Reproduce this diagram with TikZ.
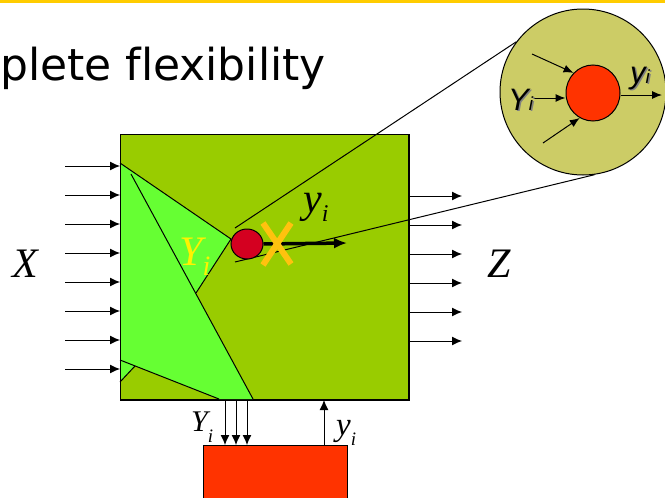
\documentclass[tikz,border=0pt]{standalone}
\usepackage{fontspec}
\newfontfamily\titlefont{DejaVu Sans}[Ligatures=NoCommon]
\newfontfamily\lensfont{Liberation Sans}
\newfontfamily\timesfont{Liberation Serif}[ItalicFont={Liberation Serif Italic}]
\usetikzlibrary{calc,shapes,backgrounds,arrows.meta,positioning}

\definecolor{boxgreen}{HTML}{99CC00}
\definecolor{lightgreen}{HTML}{66FF33}
\definecolor{dotred}{HTML}{D40020}
\definecolor{boxred}{HTML}{FF3300}
\definecolor{lensolive}{HTML}{CCCC66}
\definecolor{crossyellow}{HTML}{FFC20E}
\definecolor{rulegold}{HTML}{FFCC00}

% letter with a lowered index: size, letter, index size, drop
\newcommand{\sublab}[4]{{\timesfont\itshape\fontsize{#1}{#1}\selectfont #2\raisebox{-#4}{\fontsize{#3}{#3}\selectfont i}}}

\tikzset{
  flow/.style={line width=1pt, -{Latex[length=10pt,width=9pt]}},
  small flow/.style={line width=1pt, -{Latex[length=10pt,width=8pt]}},
  big label/.style={inner sep=0, anchor=base, font=\timesfont\itshape\fontsize{42}{42}\selectfont},
  sub label/.style={inner sep=0, anchor=base west},
  lens label/.style={anchor=base west, inner sep=0, font=\lensfont\itshape\fontsize{31}{31}\selectfont},
}

\begin{document}
\begin{tikzpicture}[x=1pt, y=-1pt]
 \useasboundingbox (0,0) rectangle (665,498);
 \fill[rulegold] (0,0) rectangle (665,2.5);
 \node[anchor=base east, inner sep=0, font=\titlefont\fontsize{44}{44}\selectfont] (title) at (326,80) {plete flexibility};

 % the system
 \node[draw, line width=1pt, fill=boxgreen, anchor=north west, inner sep=0,
       minimum width=288pt, minimum height=265pt] (sys) at (120,134) {};
 \fill[lightgreen] (120,163) -- (231,239) -- (196,293) -- (253,399) -- (219,399) -- (120,360) -- cycle;
 \fill[lightgreen] (120,360) -- (135,366) -- (120,382) -- cycle;
 \draw[line width=1pt] (120,163) -- (231,239) -- (196,293);
 \draw[line width=1pt] (131,174) -- (253,399);
 \draw[line width=1pt] (120,360) -- (219,399);
 \draw[line width=1pt] (120,382) -- (135,366);
 \draw[line width=1pt] (sys.north west) rectangle (sys.south east);

 % zoom lines
 \coordinate (zoomtop) at (235,228);
 \coordinate (zoombot) at (235,262);
 \node[circle, draw, line width=1pt, fill=lensolive, minimum size=166pt, inner sep=0] (lens) at (583,92) {};
 \draw[line width=1pt] (zoomtop) -- (lens.143);
 \draw[line width=1pt] (zoombot) -- (lens.-82);

 % the decision
 \node[ellipse, draw, line width=1pt, fill=dotred, minimum width=32pt, minimum height=30pt, inner sep=0] (dot) at (247,244) {};
 \coordinate (yhead) at (347,243);
 \draw[line width=3.5pt, -{Latex[length=13pt,width=11pt]}] (dot.east) -- (yhead);
 \draw[crossyellow, line width=6pt] (263,223) -- (291,264) (291,223) -- (263,265);
 \node[sub label] (yout) at (303,212.5) {\sublab{42}{y}{24}{9pt}};
 \node[sub label, text=yellow] (yin) at (179,265.5) {\sublab{42}{Y}{28}{9.5pt}};

 % inputs and outputs
 \foreach \k in {0,...,7} {
   \coordinate (in\k) at (65,{166+29*\k});
   \draw[flow] (in\k) -- (in\k -| sys.west);
 }
 \foreach \k in {0,...,5} {
   \coordinate (out\k) at (462,{196+29*\k});
   \draw[flow] (out\k -| sys.east) -- (out\k);
 }
 \node[big label] (xlab) at (25,277) {X};
 \node[big label] (zlab) at (499,277) {Z};

 % the controller
 \node[draw, line width=1pt, fill=boxred, anchor=north west, inner sep=0,
       minimum width=144pt, minimum height=56pt] (ctrl) at (203,445) {};
 \foreach \x [count=\n] in {225,236,247} {
   \coordinate (down\n) at (\x,445);
   \draw[flow] (down\n |- sys.south) -- (down\n);
 }
 \coordinate (up) at (324,445);
 \draw[flow] (up) -- (up |- sys.south);
 \node[sub label] (ylow) at (191,431.5) {\sublab{30}{Y}{19}{11pt}};
 \node[sub label] (yup) at (336,435) {\sublab{33}{y}{19}{10pt}};

 % inside the lens
 \node[ellipse, draw, line width=1pt, fill=boxred, minimum width=54pt, minimum height=56pt, inner sep=0] (cell) at (593,93) {};
 \coordinate (lensa) at (532,54);
 \coordinate (lensb) at (534,98);
 \coordinate (lensc) at (543,143);
 \coordinate (lensd) at (662,95);
 \draw[small flow] (lensa) -- (cell.134);
 \draw[small flow] (lensb) -- (lensb -| cell.west);
 \draw[small flow] (lensc) -- (cell.-118);
 \draw[small flow] (lensd -| cell.east) -- (lensd);
 \node[lens label, text=gray] at (509.5,111.5) {Y\fontsize{19}{19}\selectfont i};
 \node[lens label] (lensY) at (508,110) {Y\fontsize{19}{19}\selectfont i};
 \node[lens label, text=gray] at (631.5,84.5) {y\fontsize{19}{19}\selectfont i};
 \node[lens label] (lensy) at (630,83) {y\fontsize{19}{19}\selectfont i};
\end{tikzpicture}
\end{document}
